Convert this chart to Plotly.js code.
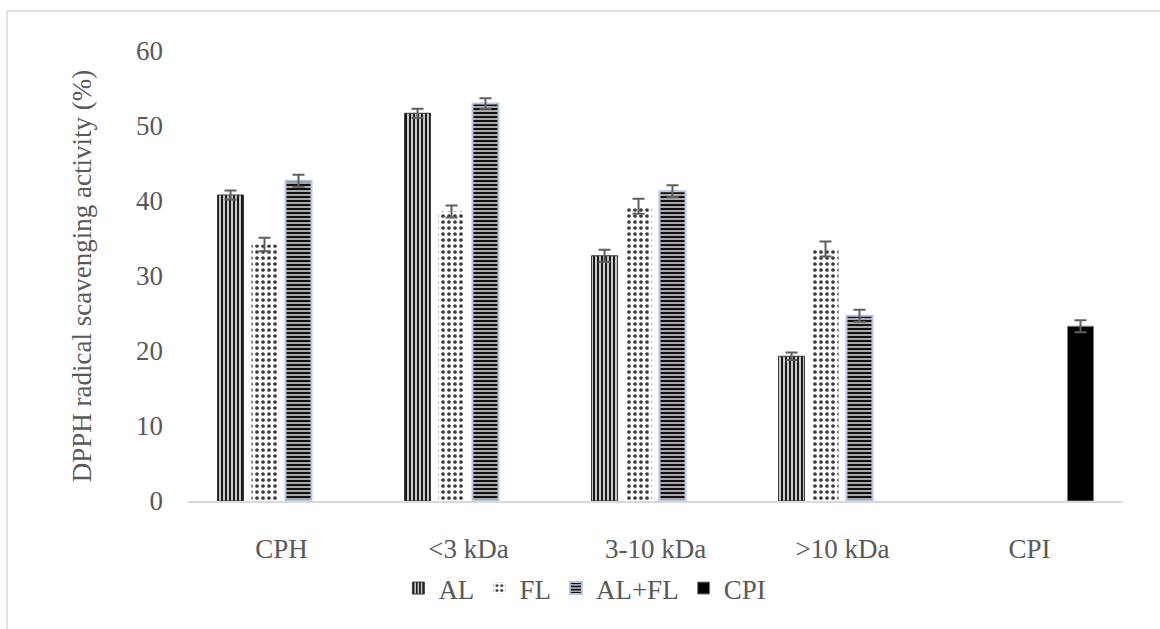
<!DOCTYPE html>
<html>
<head>
<meta charset="utf-8">
<script src="https://cdn.plot.ly/plotly-3.0.1.min.js"></script>
<style>
  html, body { margin: 0; padding: 0; background: #ffffff; }
  #chart { width: 1160px; height: 629px; }
</style>
</head>
<body>
<div id="chart"></div>
<script>
// Data
const categories = ['CPH', '<3 kDa', '3-10 kDa', '>10 kDa', 'CPI'];
const seriesNames = ['AL', 'FL', 'AL+FL', 'CPI'];
const alValues    = [40.8, 51.7, 32.7, 19.3, null];
const alErrors    = [0.6, 0.6, 0.8, 0.5, 0];
const flValues    = [34.2, 38.6, 39.3, 33.6, null];
const flErrors    = [0.9, 0.8, 1.0, 1.0, 0];
const alflValues  = [42.7, 53.0, 41.3, 24.7, null];
const alflErrors  = [0.8, 0.7, 0.8, 0.8, 0];
const cpiValues   = [null, null, null, null, 23.3];
const cpiErrors   = [0, 0, 0, 0, 0.8];

const errStyle = (arr) => ({
  type: 'data', array: arr, visible: true,
  color: '#5f5f5f', thickness: 2, width: 6
});

const traces = [
  {
    type: 'bar', name: seriesNames[0], x: categories, y: alValues,
    error_y: errStyle(alErrors),
    marker: {
      color: '#ffffff',
      line: { color: '#3a3a3a', width: 1 },
      pattern: { shape: '|', fgcolor: '#1a1a1a', bgcolor: '#c8c8c8', size: 4, solidity: 0.5, fillmode: 'replace' }
    }
  },
  {
    type: 'bar', name: seriesNames[1], x: categories, y: flValues,
    error_y: errStyle(flErrors),
    marker: {
      color: '#ffffff',
      line: { color: '#ffffff', width: 0 },
      pattern: { shape: '.', fgcolor: '#3a3a3a', bgcolor: '#ffffff', size: 6, solidity: 0.3, fillmode: 'replace' }
    }
  },
  {
    type: 'bar', name: seriesNames[2], x: categories, y: alflValues,
    error_y: errStyle(alflErrors),
    marker: {
      color: '#ffffff',
      line: { color: '#b4c7e7', width: 2 },
      pattern: { shape: '-', fgcolor: '#111111', bgcolor: '#a8a8a8', size: 4, solidity: 0.5, fillmode: 'replace' }
    }
  },
  {
    type: 'bar', name: seriesNames[3], x: categories, y: cpiValues,
    error_y: errStyle(cpiErrors),
    marker: { color: '#000000', line: { color: '#7f7f7f', width: 1 } }
  }
];

const fontFam = '"Liberation Serif", "Times New Roman", serif';

const layout = {
  width: 1160, height: 629,
  margin: { l: 188, r: 37, t: 51, b: 128 },
  paper_bgcolor: '#ffffff', plot_bgcolor: '#ffffff',
  font: { family: fontFam, color: '#595959', size: 27 },
  barmode: 'group', bargap: 0.273, bargroupgap: 0.235,
  showlegend: true,
  legend: {
    orientation: 'h', x: 0.225, xanchor: 'left', y: -0.14, yanchor: 'top',
    font: { family: fontFam, size: 27, color: '#595959' },
    traceorder: 'normal', itemwidth: 30, bgcolor: 'rgba(0,0,0,0)'
  },
  xaxis: {
    type: 'category', showgrid: false, zeroline: false,
    showline: true, linecolor: '#d9d9d9', linewidth: 1.5,
    ticks: '', ticklabelstandoff: 23,
    tickfont: { family: fontFam, size: 27, color: '#595959' }
  },
  yaxis: {
    range: [0, 60], dtick: 10, tick0: 0, showgrid: false, zeroline: false,
    showline: false, ticks: '', ticklabelstandoff: 24,
    tickfont: { family: fontFam, size: 27, color: '#595959' },
    title: { text: 'DPPH radical scavenging activity (%)', standoff: 36,
             font: { family: fontFam, size: 27, color: '#595959' } }
  },
  shapes: [{
    type: 'rect', xref: 'paper', yref: 'paper',
    x0: (7 - 188) / 935, x1: (1170 - 188) / 935,
    y0: (501 - 640) / 450, y1: (501 - 11) / 450,
    line: { color: '#d9d9d9', width: 1.5 }, fillcolor: 'rgba(0,0,0,0)', layer: 'below'
  }]
};

Plotly.newPlot('chart', traces, layout, { displayModeBar: false, staticPlot: true });
</script>
</body>
</html>
